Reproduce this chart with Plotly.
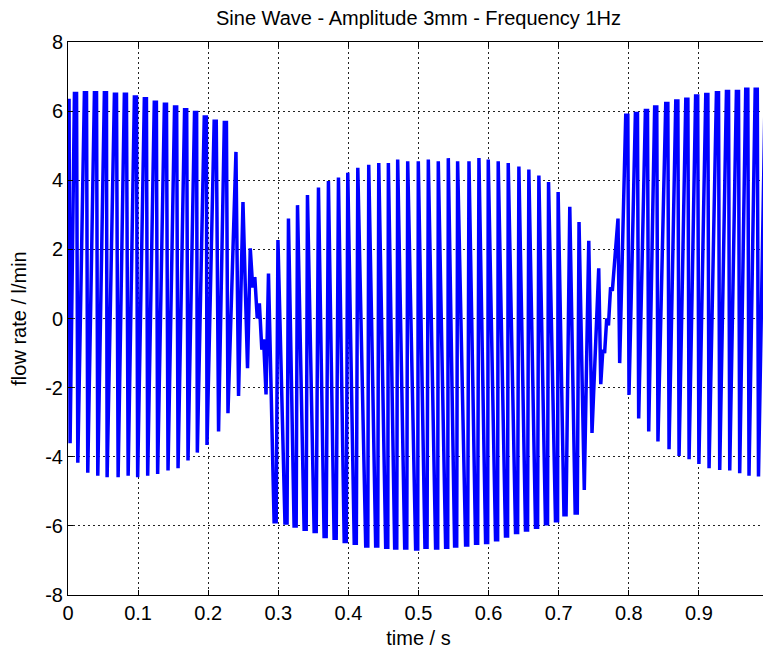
import plotly.graph_objects as go

# ---- data ----
# local maxima of the flow-rate trace (time in s, flow in l/min)
peak_t = [0.0000, 0.0107, 0.0249, 0.0392, 0.0534, 0.0677, 0.0819, 0.0962, 0.1104, 0.1246,
          0.1390, 0.1535, 0.1678, 0.1820, 0.1959, 0.2100, 0.2245, 0.2396, 0.2496, 0.2600,
          0.2665, 0.2730, 0.2790, 0.2860, 0.2995, 0.3145, 0.3274, 0.3416, 0.3573, 0.3715,
          0.3858, 0.3991, 0.4134, 0.4290, 0.4433, 0.4570, 0.4703, 0.4846, 0.4997, 0.5140,
          0.5282, 0.5425, 0.5558, 0.5720, 0.5862, 0.5995, 0.6137, 0.6280, 0.6432, 0.6574,
          0.6717, 0.6855, 0.6992, 0.7158, 0.7290, 0.7429, 0.7571, 0.7630, 0.7685, 0.7740,
          0.7846, 0.7971, 0.8109, 0.8252, 0.8384, 0.8542, 0.8685, 0.8828, 0.8968, 0.9113,
          0.9265, 0.9408, 0.9550, 0.9683, 0.9818, 0.9961]
peak_v = [6.31, 6.51, 6.53, 6.53, 6.53, 6.49, 6.49, 6.41, 6.36, 6.26,
          6.20, 6.12, 6.04, 5.96, 5.83, 5.71, 5.67, 4.82, 3.37, 2.03,
          1.20, 0.44, -0.60, 1.30, 2.27, 2.89, 3.28, 3.57, 3.79, 3.98,
          4.08, 4.22, 4.36, 4.45, 4.50, 4.50, 4.60, 4.55, 4.55, 4.60,
          4.55, 4.64, 4.55, 4.55, 4.64, 4.60, 4.55, 4.50, 4.40, 4.31,
          4.14, 3.95, 3.66, 3.23, 2.79, 2.25, 1.45, -0.90, 0.00, 0.90,
          2.89, 5.88, 5.93, 6.02, 6.12, 6.22, 6.29, 6.34, 6.44, 6.48,
          6.53, 6.57, 6.57, 6.63, 6.63, 6.60]

# local minima of the flow-rate trace
trough_t = [0.0030, 0.0140, 0.0282, 0.0425, 0.0558, 0.0715, 0.0858, 0.0994, 0.1137, 0.1279,
            0.1427, 0.1570, 0.1712, 0.1845, 0.1983, 0.2148, 0.2282, 0.2433, 0.2561, 0.2635,
            0.2700, 0.2765, 0.2825, 0.2955, 0.3110, 0.3240, 0.3383, 0.3526, 0.3668, 0.3811,
            0.3955, 0.4098, 0.4262, 0.4404, 0.4547, 0.4675, 0.4818, 0.4974, 0.5107, 0.5259,
            0.5402, 0.5530, 0.5687, 0.5829, 0.5972, 0.6114, 0.6256, 0.6399, 0.6541, 0.6684,
            0.6826, 0.6969, 0.7090, 0.7250, 0.7365, 0.7475, 0.7600, 0.7655, 0.7710, 0.7765,
            0.7870, 0.8003, 0.8141, 0.8284, 0.8416, 0.8574, 0.8717, 0.8860, 0.9000, 0.9145,
            0.9297, 0.9440, 0.9582, 0.9715, 0.9850]
trough_v = [-3.61, -4.17, -4.46, -4.55, -4.59, -4.59, -4.55, -4.59, -4.55, -4.50,
            -4.40, -4.33, -4.11, -3.88, -3.66, -3.27, -2.74, -2.24, -1.44, 0.90,
            0.00, -0.90, -2.20, -5.88, -5.92, -6.00, -6.10, -6.16, -6.31, -6.36,
            -6.45, -6.50, -6.58, -6.58, -6.62, -6.64, -6.64, -6.67, -6.62, -6.64,
            -6.62, -6.58, -6.55, -6.50, -6.48, -6.40, -6.29, -6.19, -6.12, -6.04,
            -5.94, -5.85, -5.68, -5.63, -4.96, -3.31, -1.90, -1.00, -0.20, 0.80,
            -1.29, -2.21, -2.89, -3.27, -3.56, -3.78, -3.98, -4.07, -4.21, -4.33,
            -4.38, -4.40, -4.48, -4.55, -4.57]

x_ticks = [0, 0.1, 0.2, 0.3, 0.4, 0.5, 0.6, 0.7, 0.8, 0.9, 1]
x_tick_labels = ["0", "0.1", "0.2", "0.3", "0.4", "0.5", "0.6", "0.7", "0.8", "0.9", "1"]
y_ticks = [-8, -6, -4, -2, 0, 2, 4, 6, 8]
y_tick_labels = ["-8", "-6", "-4", "-2", "0", "2", "4", "6", "8"]

title_text = "Sine Wave - Amplitude 3mm - Frequency 1Hz"
x_title = "time / s"
y_title = "flow rate / l/min"

# ---- build the trace: merge extrema in time order; the broad (large-magnitude)
# extremum of each cycle is drawn as a short plateau ----
pts = sorted(list(zip(peak_t, peak_v)) + list(zip(trough_t, trough_v)))
HALF = 0.0015
xs, ys = [], []
for t, v in pts:
    if abs(v) >= 5.5:
        xs += [max(t - HALF, 0.0), t + HALF]
        ys += [v, v]
    else:
        xs.append(t)
        ys.append(v)

FONT = "Liberation Sans, Arial, Helvetica, sans-serif"
FS = 20

# the page body adds an 8 px offset, so the figure is 8 px smaller
W, H = 763, 644

fig = go.Figure()
fig.add_trace(go.Scatter(x=xs, y=ys, mode="lines",
                         line=dict(color="#0000FF", width=3.5),
                         showlegend=False, hoverinfo="skip"))

axis_common = dict(
    showline=True, linecolor="black", linewidth=1, mirror="ticks",
    ticks="inside", ticklen=5, tickcolor="black", tickwidth=1,
    showgrid=True, gridcolor="#222222", gridwidth=1, griddash="2px,3px",
    zeroline=False, automargin=False, ticklabeloverflow="allow",
    tickfont=dict(family=FONT, size=FS, color="black"),
)

fig.update_layout(
    width=W, height=H,
    paper_bgcolor="white", plot_bgcolor="white",
    margin=dict(l=60, r=1.5, t=34, b=56.8),
    font=dict(family=FONT, size=FS, color="black"),
    title=dict(text=title_text, x=0.5, xref="paper", xanchor="center",
               y=1 - 10 / H, yref="container", yanchor="middle",
               pad=dict(t=0, b=0, l=0, r=0),
               font=dict(family=FONT, size=FS, color="black")),
    xaxis=dict(range=[0, 1], tickvals=x_ticks, ticktext=x_tick_labels,
               title=dict(text=x_title, standoff=7,
                          font=dict(family=FONT, size=FS, color="black")),
               **axis_common),
    yaxis=dict(range=[-8, 8], tickvals=y_ticks, ticktext=y_tick_labels,
               title=dict(text=y_title, standoff=17,
                          font=dict(family=FONT, size=FS, color="black")),
               **axis_common),
)

fig.write_html("out.html")
